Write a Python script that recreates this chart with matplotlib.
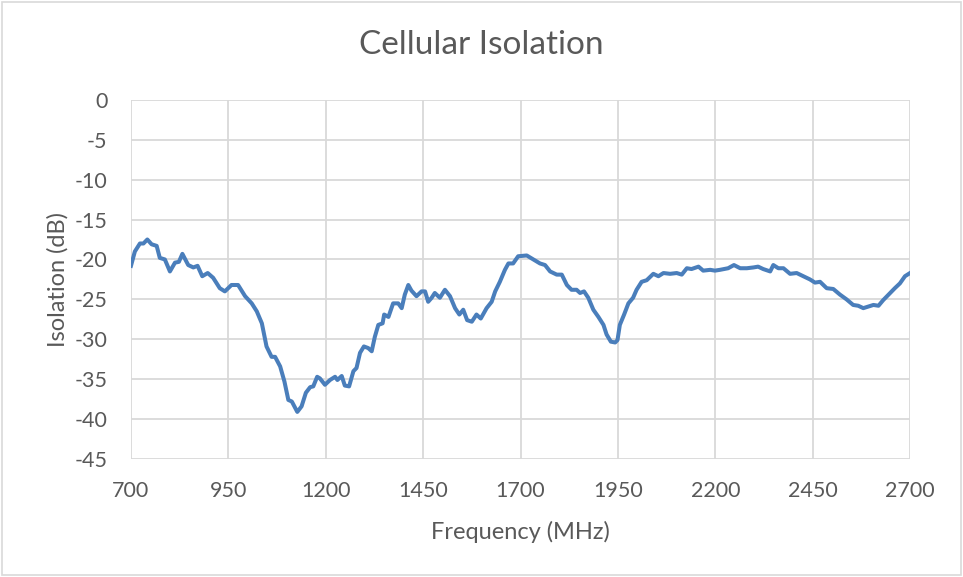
import matplotlib
matplotlib.use('Agg')
import matplotlib.pyplot as plt
from matplotlib.patches import Rectangle

# values (MHz, dB)
freq = [700, 710, 723, 732, 742, 753, 766, 774, 787, 800, 813, 823, 832, 847,
        860, 871, 883, 897, 911, 928, 941, 958, 975, 993, 1010, 1023, 1036,
        1048, 1061, 1070, 1083, 1094, 1104, 1113, 1127, 1138, 1149, 1160, 1168,
        1178, 1185, 1198, 1211, 1224, 1230, 1241, 1249, 1260, 1271, 1279, 1288,
        1298, 1309, 1318, 1326, 1335, 1346, 1350, 1361, 1373, 1386, 1395, 1403,
        1412, 1420, 1433, 1446, 1455, 1463, 1472, 1480, 1493, 1506, 1519, 1532,
        1543, 1553, 1563, 1575, 1587, 1598, 1613, 1626, 1635, 1647, 1660, 1669,
        1681, 1694, 1716, 1733, 1750, 1763, 1776, 1793, 1806, 1819, 1831, 1844,
        1853, 1863, 1874, 1887, 1900, 1913, 1921, 1932, 1943, 1949, 1955, 1966,
        1977, 1989, 1998, 2011, 2024, 2041, 2054, 2067, 2084, 2101, 2114, 2127,
        2139, 2157, 2169, 2187, 2199, 2212, 2233, 2248, 2264, 2281, 2298, 2310,
        2323, 2341, 2349, 2362, 2375, 2392, 2409, 2426, 2443, 2456, 2469, 2486,
        2503, 2520, 2537, 2554, 2567, 2580, 2593, 2606, 2619, 2631, 2649, 2661,
        2674, 2687, 2700]
iso = [-20.8, -19.0, -18.0, -18.0, -17.5, -18.1, -18.3, -19.8, -20.0, -21.5,
       -20.4, -20.3, -19.3, -20.7, -21.0, -20.8, -22.1, -21.7, -22.3, -23.6,
       -24.0, -23.2, -23.2, -24.6, -25.5, -26.5, -28.0, -30.9, -32.2, -32.2,
       -33.4, -35.3, -37.6, -37.8, -39.1, -38.4, -36.7, -36.0, -35.9, -34.7,
       -34.9, -35.7, -35.1, -34.7, -35.1, -34.6, -35.8, -35.9, -34.0, -33.6,
       -31.7, -30.9, -31.1, -31.5, -29.7, -28.2, -28.0, -26.9, -27.2, -25.5,
       -25.5, -26.1, -24.4, -23.2, -23.9, -24.6, -24.0, -24.0, -25.3, -24.8,
       -24.2, -24.8, -23.8, -24.6, -26.1, -26.9, -26.3, -27.6, -27.8, -26.9,
       -27.4, -26.1, -25.3, -24.0, -22.8, -21.3, -20.5, -20.5, -19.6, -19.5,
       -20.0, -20.5, -20.7, -21.5, -21.9, -21.9, -23.2, -23.8, -23.8, -24.2,
       -24.0, -24.8, -26.3, -27.2, -28.2, -29.4, -30.3, -30.4, -30.1, -28.2,
       -26.9, -25.5, -24.8, -23.8, -22.8, -22.6, -21.8, -22.1, -21.7, -21.8,
       -21.7, -21.9, -21.1, -21.2, -20.9, -21.4, -21.3, -21.4, -21.3, -21.1,
       -20.7, -21.1, -21.1, -21.0, -20.9, -21.2, -21.5, -20.7, -21.1, -21.1,
       -21.8, -21.7, -22.1, -22.5, -22.9, -22.8, -23.6, -23.7, -24.4, -25.0,
       -25.7, -25.8, -26.1, -25.9, -25.7, -25.8, -25.1, -24.2, -23.6, -23.0,
       -22.1, -21.7]
xticks = [700, 950, 1200, 1450, 1700, 1950, 2200, 2450, 2700]
yticks = [0, -5, -10, -15, -20, -25, -30, -35, -40, -45]

plt.rcParams['font.family'] = ['Lato', 'DejaVu Sans']
plt.rcParams['axes.unicode_minus'] = False
grey = '#595959'
grid = '#d9d9d9'

fig = plt.figure(figsize=(9.63, 5.77), dpi=100)
ax = fig.add_axes([0.136, 0.2045, 0.809, 0.6225])

ax.plot(freq, iso, color='#4a7ebb', linewidth=2.9, solid_joinstyle='round')

ax.set_xlim(700, 2700)
ax.set_ylim(-45, 0)
ax.set_xticks(xticks)
ax.set_yticks(yticks)
ax.grid(True, color=grid, linewidth=1.3)
ax.set_axisbelow(True)
for s in ax.spines.values():
    s.set_visible(False)
ax.tick_params(length=0, labelsize=15.5, colors=grey)
ax.tick_params(axis='y', pad=17)
ax.tick_params(axis='x', pad=16)

ax.set_xlabel('Frequency (MHz)', fontsize=17, color=grey, labelpad=14)
ax.set_ylabel('Isolation (dB)', fontsize=17, color=grey, labelpad=4)
fig.text(0.5, 0.922, 'Cellular Isolation', ha='center', va='center',
         fontsize=24, color=grey)

# outer chart border
fig.patches.append(Rectangle((0.002, 0.003), 0.996, 0.994, transform=fig.transFigure,
                             fill=False, edgecolor=grid, linewidth=1.2))

fig.savefig('out.png', dpi=100)
